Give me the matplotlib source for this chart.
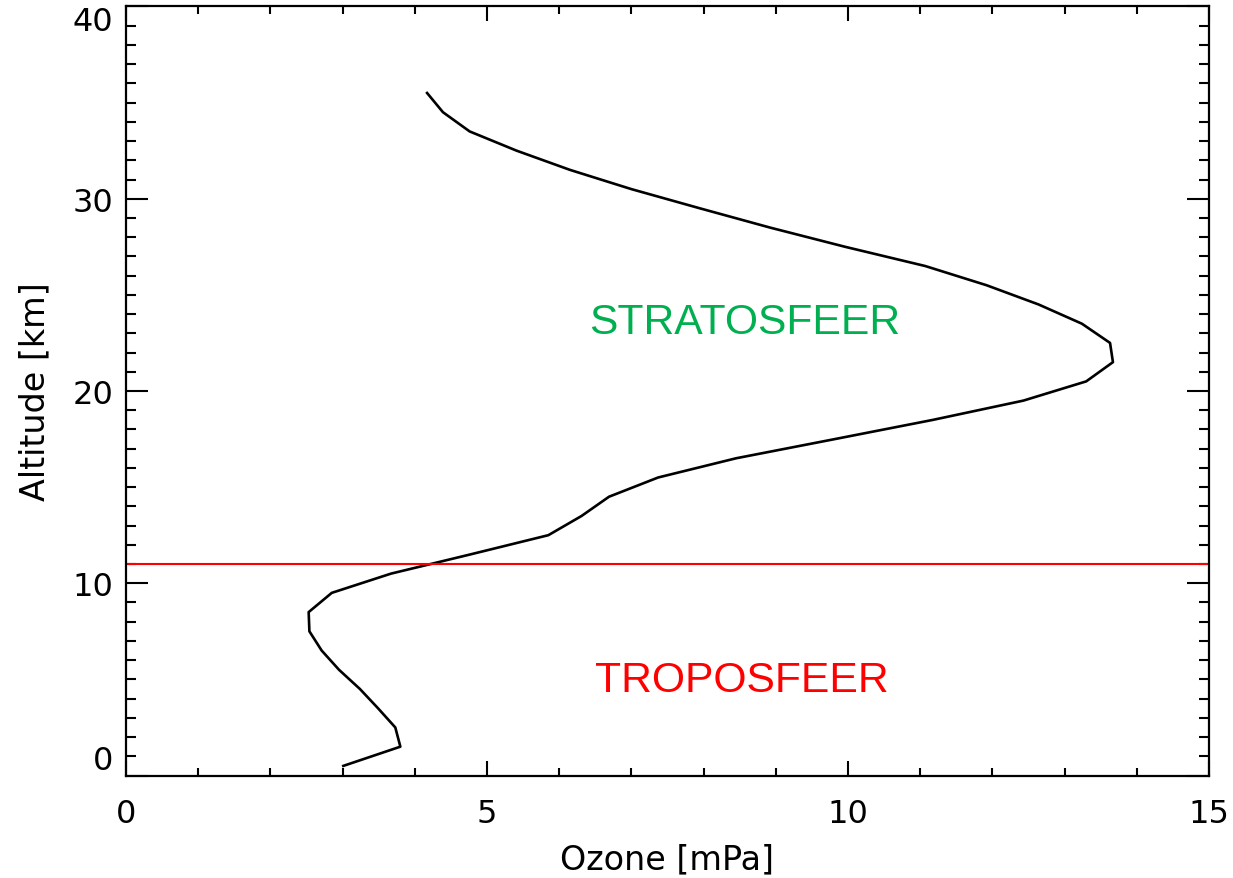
import matplotlib
matplotlib.use("Agg")
import matplotlib.pyplot as plt
from matplotlib.ticker import MultipleLocator

# Data
altitude_km = [0.5, 1.5, 2.5, 3.5, 4.5, 5.5, 6.5, 7.5, 8.5, 9.5,
               10.5, 11.5, 12.5, 13.5, 14.5, 15.5, 16.5, 17.5, 18.5, 19.5,
               20.5, 21.5, 22.5, 23.5, 24.5, 25.5, 26.5, 27.5, 28.5, 29.5,
               30.5, 31.5, 32.5, 33.5, 34.5, 35.5]
ozone_mpa = [3.01, 3.80, 3.73, 3.49, 3.24, 2.95, 2.71, 2.54, 2.53, 2.85,
             3.67, 4.77, 5.85, 6.31, 6.69, 7.37, 8.45, 9.82, 11.18, 12.43,
             13.30, 13.67, 13.63, 13.24, 12.64, 11.92, 11.07, 9.96, 8.92, 7.95,
             7.00, 6.15, 5.41, 4.76, 4.39, 4.17]
tropopause_km = 11.0
x_ticks = [0, 5, 10, 15]
y_ticks = [0, 10, 20, 30, 40]
region_labels = ["STRATOSFEER", "TROPOSFEER"]
region_pos = [(8.57, 23.6), (8.53, 4.95)]
region_colors = ["#00B050", "#FF0000"]

fig = plt.figure(figsize=(12.33, 8.79), dpi=100)
ax = fig.add_axes([0.1022, 0.1166, 0.9805 - 0.1022, 0.9915 - 0.1166])

ax.plot(ozone_mpa, altitude_km, color="black", lw=1.9)
ax.axhline(tropopause_km, color="#FF0000", lw=1.5)

for lab, (xp, yp), c in zip(region_labels, region_pos, region_colors):
    ax.text(xp, yp, lab, color=c, fontsize=30.7, family="Liberation Sans",
            ha="center", va="center")

ax.set_xlim(0, 15)
ax.set_ylim(0, 40)
ax.set_xticks(x_ticks)
ax.set_yticks(y_ticks)
ax.xaxis.set_minor_locator(MultipleLocator(1))
ax.yaxis.set_minor_locator(MultipleLocator(1))

for s in ax.spines.values():
    s.set_linewidth(1.6)

ax.tick_params(axis="both", which="both", direction="in", top=True, right=True,
               width=1.5, labelsize=23, colors="black")
ax.tick_params(axis="x", which="major", length=11, pad=16)
ax.tick_params(axis="x", which="minor", length=6)
ax.tick_params(axis="y", which="major", length=16, pad=9)
ax.tick_params(axis="y", which="minor", length=7)

ax.set_xticklabels([str(t) for t in x_ticks])
ax.set_yticklabels([str(t) for t in y_ticks])
ylabs = ax.get_yticklabels()
ylabs[0].set_va("bottom")
ylabs[-1].set_va("top")

ax.set_xlabel("Ozone [mPa]", fontsize=24, labelpad=10)
ax.set_ylabel("Altitude [km]", fontsize=24, labelpad=15)

fig.savefig("out.png", dpi=100)
